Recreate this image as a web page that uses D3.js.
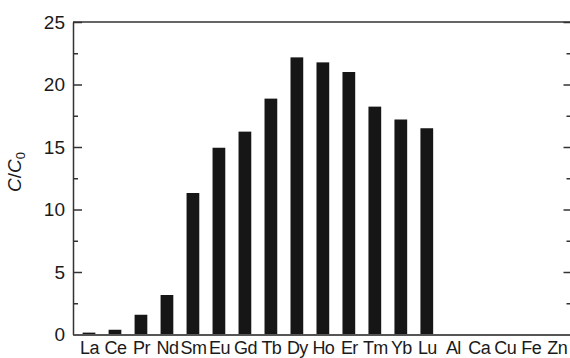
<!DOCTYPE html>
<html>
<head>
<meta charset="utf-8">
<script src="https://cdn.jsdelivr.net/npm/d3@7"></script>
<style>
  body { margin: 0; background: #fff; }
  svg { display: block; font-family: "Liberation Sans", Arial, sans-serif; }
</style>
</head>
<body>
<svg id="chart"></svg>
<script>
const elements = ['La', 'Ce', 'Pr', 'Nd', 'Sm', 'Eu', 'Gd', 'Tb', 'Dy', 'Ho', 'Er', 'Tm', 'Yb', 'Lu', 'Al', 'Ca', 'Cu', 'Fe', 'Zn'];
const ratio = [0.15, 0.38, 1.58, 3.16, 11.32, 14.94, 16.23, 18.87, 22.17, 21.77, 21.0, 18.23, 17.2, 16.5, 0, 0, 0, 0, 0];
const yTicks = [0, 5, 10, 15, 20, 25];
const yMinor = [2.5, 7.5, 12.5, 17.5, 22.5];

const width = 570, height = 358;
const margin = { top: 22, right: -0.5, bottom: 23.5, left: 73 };
const w = width - margin.left - margin.right;
const h = height - margin.top - margin.bottom;

const svg = d3.select('#chart')
  .attr('width', width)
  .attr('height', height);

const g = svg.append('g')
  .attr('transform', `translate(${margin.left},${margin.top})`);

// x is position by index (1-based), with the odd left/right padding of the original
const x = d3.scaleLinear()
  .domain([0.385, 19.53])
  .range([0, w]);

const y = d3.scaleLinear()
  .domain([0, 25])
  .range([h, 0]);

const step = x(2) - x(1);
const barW = step * 0.49;

// bars
g.selectAll('rect.bar')
  .data(ratio.map((v, i) => ({ v, i })).filter(d => d.v > 0))
  .enter().append('rect')
  .attr('class', 'bar')
  .attr('x', d => x(d.i + 1) - barW / 2)
  .attr('y', d => y(d.v))
  .attr('width', barW)
  .attr('height', d => h - y(d.v))
  .attr('fill', '#161616');

// left axis, ticks inward
const yAxis = d3.axisLeft(y)
  .tickValues(yTicks)
  .tickSizeInner(-9)
  .tickSizeOuter(0)
  .tickPadding(8);

const yl = g.append('g').call(yAxis);
yl.select('.domain').attr('stroke', '#333').attr('stroke-width', 1.5);
yl.selectAll('.tick line').attr('stroke', '#333').attr('stroke-width', 1.5);
yl.selectAll('.tick text').attr('font-size', 19).attr('fill', '#1a1a1a');

const yMinorAxis = d3.axisLeft(y)
  .tickValues(yMinor)
  .tickSizeInner(-5)
  .tickSizeOuter(0)
  .tickFormat('');
const ym = g.append('g').call(yMinorAxis);
ym.select('.domain').remove();
ym.selectAll('.tick line').attr('stroke', '#333').attr('stroke-width', 1.5);

// right axis mirror ticks
const yRight = d3.axisRight(y)
  .tickValues(yTicks)
  .tickSizeInner(-7)
  .tickSizeOuter(0)
  .tickFormat('');
const yr = g.append('g').attr('transform', `translate(${w},0)`).call(yRight);
yr.select('.domain').attr('stroke', '#333').attr('stroke-width', 1.5);
yr.selectAll('.tick line').attr('stroke', '#333').attr('stroke-width', 1.5);

const yRightMinor = d3.axisRight(y)
  .tickValues(yMinor)
  .tickSizeInner(-4)
  .tickSizeOuter(0)
  .tickFormat('');
const yrm = g.append('g').attr('transform', `translate(${w},0)`).call(yRightMinor);
yrm.select('.domain').remove();
yrm.selectAll('.tick line').attr('stroke', '#333').attr('stroke-width', 1.5);

// top line
g.append('line')
  .attr('x1', 0).attr('x2', w)
  .attr('y1', 0).attr('y2', 0)
  .attr('stroke', '#333').attr('stroke-width', 1.5);

// bottom axis with element labels
const xAxis = d3.axisBottom(x)
  .tickValues(d3.range(1, elements.length + 1))
  .tickSize(0)
  .tickPadding(7)
  .tickFormat(d => elements[d - 1]);

const xa = g.append('g').attr('transform', `translate(0,${h})`).call(xAxis);
xa.select('.domain').attr('stroke', '#555').attr('stroke-width', 2);
xa.selectAll('.tick text')
  .attr('font-size', 18)
  .attr('letter-spacing', -0.6)
  .attr('fill', '#1a1a1a');

// y label C/C0
const lab = svg.append('text')
  .attr('transform', 'translate(21,172) rotate(-90)')
  .attr('text-anchor', 'middle')
  .attr('font-size', 19)
  .attr('fill', '#1a1a1a');
lab.append('tspan').attr('font-style', 'italic').text('C');
lab.append('tspan').text('/');
lab.append('tspan').attr('font-style', 'italic').text('C');
lab.append('tspan').attr('font-size', 13).attr('dy', 4).text('0');
</script>
</body>
</html>
